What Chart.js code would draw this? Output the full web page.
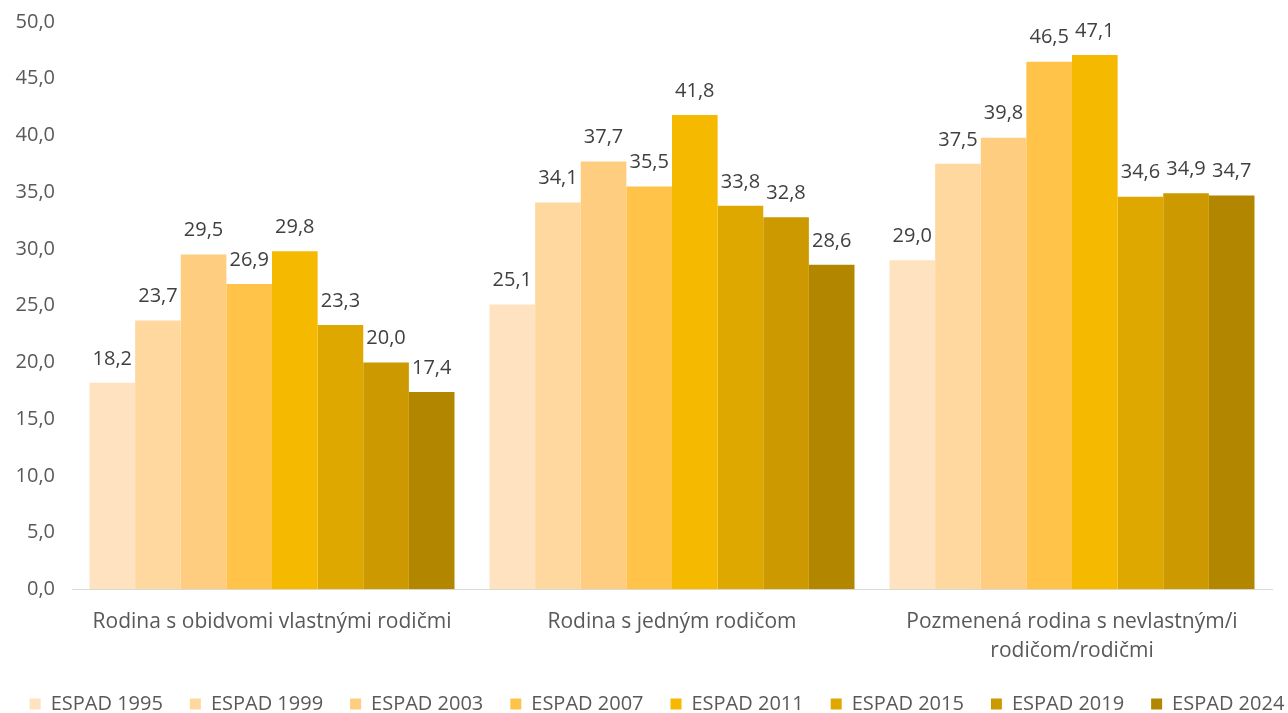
<!DOCTYPE html>
<html>
<head>
<meta charset="utf-8">
<script src="https://cdn.jsdelivr.net/npm/chart.js@4/dist/chart.umd.min.js"></script>
<style>
  html, body { margin: 0; padding: 0; background: #fff; }
  #wrap { width: 1288px; height: 713px; }
</style>
</head>
<body>
<div id="wrap"><canvas id="chart" width="1288" height="713"></canvas></div>
<script>
const categories = [
    'Rodina s obidvomi vlastnými rodičmi',
    'Rodina s jedným rodičom',
    ['Pozmenená rodina s nevlastným/i', 'rodičom/rodičmi']
];
const seriesNames = ['ESPAD 1995', 'ESPAD 1999', 'ESPAD 2003', 'ESPAD 2007', 'ESPAD 2011', 'ESPAD 2015', 'ESPAD 2019', 'ESPAD 2024'];
const espad1995 = [18.2, 25.1, 29.0];
const espad1999 = [23.7, 34.1, 37.5];
const espad2003 = [29.5, 37.7, 39.8];
const espad2007 = [26.9, 35.5, 46.5];
const espad2011 = [29.8, 41.8, 47.1];
const espad2015 = [23.3, 33.8, 34.6];
const espad2019 = [20.0, 32.8, 34.9];
const espad2024 = [17.4, 28.6, 34.7];
const seriesColors = ['#FFE3C1', '#FFD8A0', '#FFCD80', '#FFC34A', '#F5BA00', '#DFA800', '#CC9A00', '#B38600'];

const allSeries = [espad1995, espad1999, espad2003, espad2007, espad2011, espad2015, espad2019, espad2024];
const fmt = v => v.toFixed(1).replace('.', ',');
const FONT = "'Open Sans', sans-serif";

// data labels above each bar
const valueLabels = {
    id: 'valueLabels',
    afterDatasetsDraw(chart) {
        const ctx = chart.ctx;
        ctx.save();
        ctx.font = '20px ' + FONT;
        ctx.fillStyle = '#404040';
        ctx.textAlign = 'center';
        ctx.textBaseline = 'middle';
        chart.data.datasets.forEach((ds, i) => {
            chart.getDatasetMeta(i).data.forEach((bar, j) => {
                ctx.fillText(fmt(ds.data[j]), bar.x, bar.y - 24);
            });
        });
        ctx.restore();
    }
};

// legend row at the bottom, spaced like the original
const bottomLegend = {
    id: 'bottomLegend',
    afterDraw(chart) {
        const ctx = chart.ctx;
        const box = 11, gap = 10, spacing = 27, y = 704;
        ctx.save();
        ctx.font = '20px ' + FONT;
        ctx.textBaseline = 'middle';
        ctx.textAlign = 'left';
        const items = chart.data.datasets.map(ds => ({
            text: ds.label,
            color: ds.backgroundColor,
            w: box + gap + ctx.measureText(ds.label).width
        }));
        const total = items.reduce((s, it) => s + it.w, 0) + spacing * (items.length - 1);
        let x = chart.width / 2 + 13 - total / 2;
        items.forEach(it => {
            ctx.fillStyle = it.color;
            ctx.fillRect(x, y - box / 2, box, box);
            ctx.fillStyle = '#595959';
            ctx.fillText(it.text, x + box + gap, y);
            x += it.w + spacing;
        });
        ctx.restore();
    }
};

new Chart(document.getElementById('chart').getContext('2d'), {
    type: 'bar',
    data: {
        labels: categories,
        datasets: seriesNames.map((name, i) => ({
            label: name,
            data: allSeries[i],
            yAxisID: 'y',
            backgroundColor: seriesColors[i],
            borderWidth: 0,
            barPercentage: 1,
            categoryPercentage: 0.9125
        }))
    },
    options: {
        responsive: false,
        animation: false,
        layout: { padding: { top: 4, right: 0, left: 0, bottom: 29 } },
        scales: {
            y: {
                min: 0,
                max: 50,
                ticks: {
                    stepSize: 5,
                    color: '#595959',
                    font: { family: FONT, size: 20 },
                    padding: 17,
                    callback: v => fmt(v)
                },
                grid: { display: false, drawTicks: false },
                border: { display: false },
                afterFit: s => { s.width = 72; s.paddingTop = 22; }
            },
            yRight: {
                position: 'right',
                ticks: { display: false },
                grid: { display: false, drawTicks: false },
                border: { display: false },
                afterFit: s => { s.width = 16; }
            },
            x: {
                ticks: {
                    color: '#595959',
                    font: { family: FONT, size: 21, lineHeight: 1.35 },
                    padding: 19
                },
                grid: { display: false, drawTicks: false },
                border: { color: '#D9D9D9', width: 1 }
            }
        },
        plugins: {
            tooltip: { enabled: false },
            legend: { display: false }
        }
    },
    plugins: [valueLabels, bottomLegend]
});
</script>
</body>
</html>
